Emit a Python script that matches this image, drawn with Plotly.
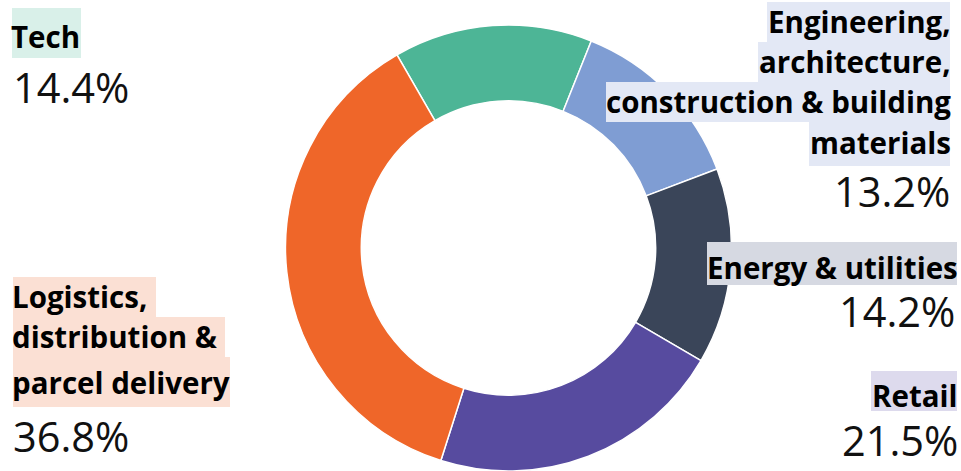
import plotly.graph_objects as go

W, H = 961, 471

# Sector shares (%)
sectors = ["Tech", "Engineering, architecture, construction & building materials",
           "Energy & utilities", "Retail", "Logistics, distribution & parcel delivery"]
shares = [14.4, 13.2, 14.2, 21.5, 36.8]
colors = ["#4db596", "#7f9dd3", "#3a4559", "#574b9f", "#ef6629"]
label_bg = ["#d9f0e9", "#e3e8f5", "#d6d9e2", "#dddaed", "#fbe0d4"]

# Label text, broken into the lines shown beside the ring
label_lines = [
    ["Tech"],
    ["Engineering,", "architecture,", "construction & building", "materials"],
    ["Energy & utilities"],
    ["Retail"],
    ["Logistics,", "distribution &", "parcel delivery"],
]
pct_text = [f"{v:.1f}%" for v in shares]

fig = go.Figure(go.Pie(
    labels=sectors, values=shares, sort=False, direction="clockwise",
    rotation=-30, hole=0.66, textinfo="none", hoverinfo="label+percent",
    marker=dict(colors=colors, line=dict(color="white", width=1.5)),
    domain=dict(x=[284 / W, 733 / W], y=[0, 1 - 25 / H]),
    showlegend=False,
))


def px(x, y):
    return x / W, 1 - y / H


# Per-line highlight boxes (x0, x1, y0, y1 in px) and text centre y for each line
label_boxes = [
    [(12, 81, 8, 58, 36.5)],
    [(767, 950, 2, 42, 21.5), (758, 950, 42, 82, 61.5),
     (606, 950, 82, 122, 101.5), (809, 950, 122, 166, 142.5)],
    [(707, 957, 242, 285, 267)],
    [(871, 957, 371, 411, 395.5)],
    [(13, 156, 277, 317, 296.5), (13, 225, 317, 357, 336),
     (13, 230, 357, 407, 382)],
]
# Side of each label, text anchor x, percent anchor x and centre y
label_side = [("left", 11, 13, 87), ("right", 951, 950, 191),
              ("right", 958, 955, 311), ("right", 958, 958, 440),
              ("left", 12, 13, 436)]

shapes, ann = [], []
for i, (side, tx, pxx, pcy) in enumerate(label_side):
    for line, (x0, x1, y0, y1, cy) in zip(label_lines[i], label_boxes[i]):
        shapes.append(dict(
            type="rect", xref="paper", yref="paper", layer="above",
            x0=x0 / W, x1=x1 / W, y0=1 - y1 / H, y1=1 - y0 / H,
            fillcolor=label_bg[i], line=dict(width=0),
        ))
        x, y = px(tx, cy)
        ann.append(dict(
            text=f"<b>{line}</b>", x=x, y=y, xref="paper", yref="paper",
            xanchor=side, yanchor="middle", align=side, showarrow=False,
            borderpad=0, borderwidth=0,
            font=dict(family="Open Sans", size=29.5, color="#000000"),
        ))
    x, y = px(pxx, pcy)
    ann.append(dict(
        text=pct_text[i], x=x, y=y, xref="paper", yref="paper",
        xanchor=side, yanchor="middle", showarrow=False,
        borderpad=0, borderwidth=0,
        font=dict(family="Open Sans", size=41.5, color="#111111"),
    ))

fig.update_layout(
    width=W, height=H, margin=dict(l=0, r=0, t=0, b=0),
    paper_bgcolor="white", plot_bgcolor="white",
    shapes=shapes, annotations=ann,
)

fig.write_html("out.html")
